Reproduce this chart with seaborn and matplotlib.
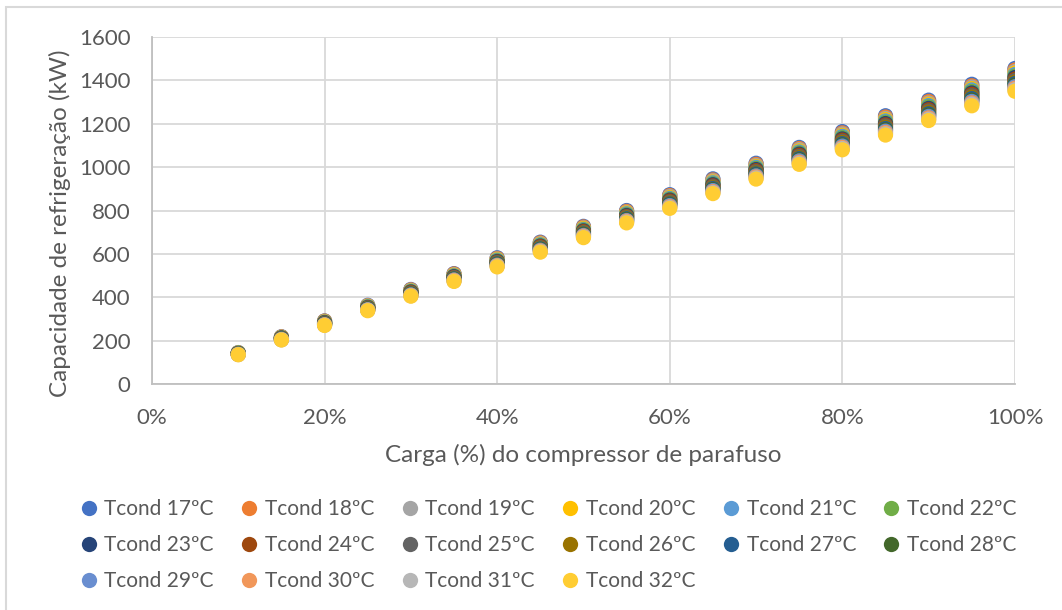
import matplotlib
matplotlib.use("Agg")
import matplotlib.pyplot as plt
from matplotlib.lines import Line2D
from matplotlib.patches import Rectangle
from matplotlib.ticker import FuncFormatter
import pandas as pd
import seaborn as sns

# Compressor load (%)
carga = [10, 15, 20, 25, 30, 35, 40, 45, 50, 55, 60, 65, 70, 75, 80, 85, 90, 95, 100]

# Refrigeration capacity (kW) for each condensing temperature
cap_17 = [145, 218, 291, 363, 436, 509, 582, 654, 727, 800, 873, 946, 1018, 1091, 1164, 1237, 1309, 1382, 1455]
cap_18 = [144, 217, 290, 361, 434, 507, 579, 651, 724, 796, 869, 941, 1013, 1086, 1158, 1231, 1303, 1375, 1448]
cap_19 = [144, 216, 288, 360, 432, 504, 576, 648, 720, 792, 865, 937, 1008, 1081, 1153, 1225, 1296, 1369, 1441]
cap_20 = [143, 215, 287, 358, 430, 502, 574, 645, 717, 789, 860, 932, 1003, 1075, 1147, 1219, 1290, 1362, 1434]
cap_21 = [142, 214, 285, 356, 428, 499, 571, 642, 713, 785, 856, 928, 999, 1070, 1142, 1213, 1284, 1356, 1427]
cap_22 = [142, 213, 284, 355, 426, 497, 568, 639, 710, 781, 852, 923, 994, 1065, 1136, 1207, 1278, 1349, 1420]
cap_23 = [141, 212, 283, 353, 424, 495, 565, 636, 706, 777, 848, 919, 989, 1060, 1130, 1201, 1271, 1342, 1413]
cap_24 = [140, 211, 281, 351, 422, 492, 562, 633, 703, 773, 844, 914, 984, 1055, 1125, 1195, 1265, 1336, 1406]
cap_25 = [140, 210, 280, 350, 419, 490, 560, 629, 699, 770, 839, 910, 979, 1049, 1119, 1190, 1259, 1329, 1399]
cap_26 = [139, 209, 278, 348, 417, 487, 557, 626, 696, 766, 835, 905, 974, 1044, 1114, 1184, 1253, 1323, 1392]
cap_27 = [138, 208, 277, 346, 415, 485, 554, 623, 692, 762, 831, 901, 969, 1039, 1108, 1178, 1246, 1316, 1385]
cap_28 = [138, 207, 276, 345, 413, 483, 551, 620, 689, 758, 827, 896, 964, 1034, 1102, 1172, 1240, 1309, 1378]
cap_29 = [137, 206, 274, 343, 411, 480, 548, 617, 685, 754, 823, 892, 960, 1029, 1097, 1166, 1234, 1303, 1371]
cap_30 = [136, 205, 273, 341, 409, 478, 546, 614, 682, 751, 818, 887, 955, 1023, 1091, 1160, 1227, 1296, 1364]
cap_31 = [136, 204, 271, 340, 407, 475, 543, 611, 678, 747, 814, 883, 950, 1018, 1086, 1154, 1221, 1290, 1357]
cap_32 = [135, 203, 270, 338, 405, 473, 540, 608, 675, 743, 810, 878, 945, 1013, 1080, 1148, 1215, 1283, 1350]

series_names = ["Tcond 17ºC", "Tcond 18ºC", "Tcond 19ºC", "Tcond 20ºC",
                "Tcond 21ºC", "Tcond 22ºC", "Tcond 23ºC", "Tcond 24ºC",
                "Tcond 25ºC", "Tcond 26ºC", "Tcond 27ºC", "Tcond 28ºC",
                "Tcond 29ºC", "Tcond 30ºC", "Tcond 31ºC", "Tcond 32ºC"]
series_values = [cap_17, cap_18, cap_19, cap_20, cap_21, cap_22, cap_23, cap_24,
                 cap_25, cap_26, cap_27, cap_28, cap_29, cap_30, cap_31, cap_32]
colors = ["#4472C4", "#ED7D31", "#A5A5A5", "#FFC000", "#5B9BD5", "#70AD47",
          "#264478", "#9E480E", "#636363", "#997300", "#255E91", "#43682B",
          "#698ED0", "#F1975A", "#B7B7B7", "#FFCD33"]

x_ticks = [0, 20, 40, 60, 80, 100]
y_ticks = [0, 200, 400, 600, 800, 1000, 1200, 1400, 1600]

rows = []
for name, vals in zip(series_names, series_values):
    for c, v in zip(carga, vals):
        rows.append({"carga": c, "cap": v, "serie": name})
df = pd.DataFrame(rows)

sns.set_style("white")
plt.rcParams["font.family"] = ["Lato", "DejaVu Sans"]
text_color = "#595959"
grid_color = "#D9D9D9"

fig = plt.figure(figsize=(10.62, 6.10), dpi=100)

# Chart-area frame
W, H = 1062.0, 610.0
fig.patches.append(Rectangle((6 / W, -0.05), 1.2, 1 - 7 / H + 0.05,
                             transform=fig.transFigure, fill=False,
                             edgecolor=grid_color, linewidth=1.5, zorder=0))

ax = fig.add_axes([0.1431, 0.3705, 0.8126, 0.5688])

palette = dict(zip(series_names, colors))
sns.scatterplot(data=df, x="carga", y="cap", hue="serie", palette=palette,
                hue_order=series_names, s=120, linewidth=0, alpha=1.0,
                legend=False, ax=ax, zorder=3)

ax.set_xlim(0, 100)
ax.set_ylim(0, 1600)
ax.set_xticks(x_ticks)
ax.set_yticks(y_ticks)
ax.xaxis.set_major_formatter(FuncFormatter(lambda v, p: f"{v:.0f}%"))
ax.grid(True, color=grid_color, linewidth=1.3, zorder=0)
ax.set_axisbelow(True)
for side in ["top", "right"]:
    ax.spines[side].set_visible(False)
for side in ["left", "bottom"]:
    ax.spines[side].set_color("#BFBFBF")
    ax.spines[side].set_linewidth(1.3)
ax.tick_params(axis="both", length=0, labelsize=16, colors=text_color)
ax.tick_params(axis="y", pad=15.5)
ax.tick_params(axis="x", pad=17)

ax.set_xlabel("Carga (%) do compressor de parafuso", fontsize=17.5,
              color=text_color, labelpad=12)
ax.set_ylabel("Capacidade de refrigeração (kW)", fontsize=17.5,
              color=text_color)
ax.yaxis.set_label_coords(-0.1066, 0.4625)
ax.yaxis.label.set_verticalalignment("center")

# Legend laid out row by row: six columns, three rows
ncol = 6
nrow = 3
order = []
for col in range(ncol):
    for row in range(nrow):
        idx = row * ncol + col
        if idx < len(series_names):
            order.append(idx)
handles = [Line2D([0], [0], marker="o", linestyle="", markersize=11,
                  markerfacecolor=colors[i], markeredgewidth=0)
           for i in order]
labels = [series_names[i] for i in order]
leg = fig.legend(handles, labels, ncol=ncol, loc="upper left",
                 bbox_to_anchor=(0.060, 0.213), frameon=False,
                 fontsize=15, handletextpad=0.45, columnspacing=1.4,
                 handlelength=0.6, labelspacing=0.78)
for t in leg.get_texts():
    t.set_color(text_color)

fig.savefig("out.png", dpi=100, facecolor="white")
